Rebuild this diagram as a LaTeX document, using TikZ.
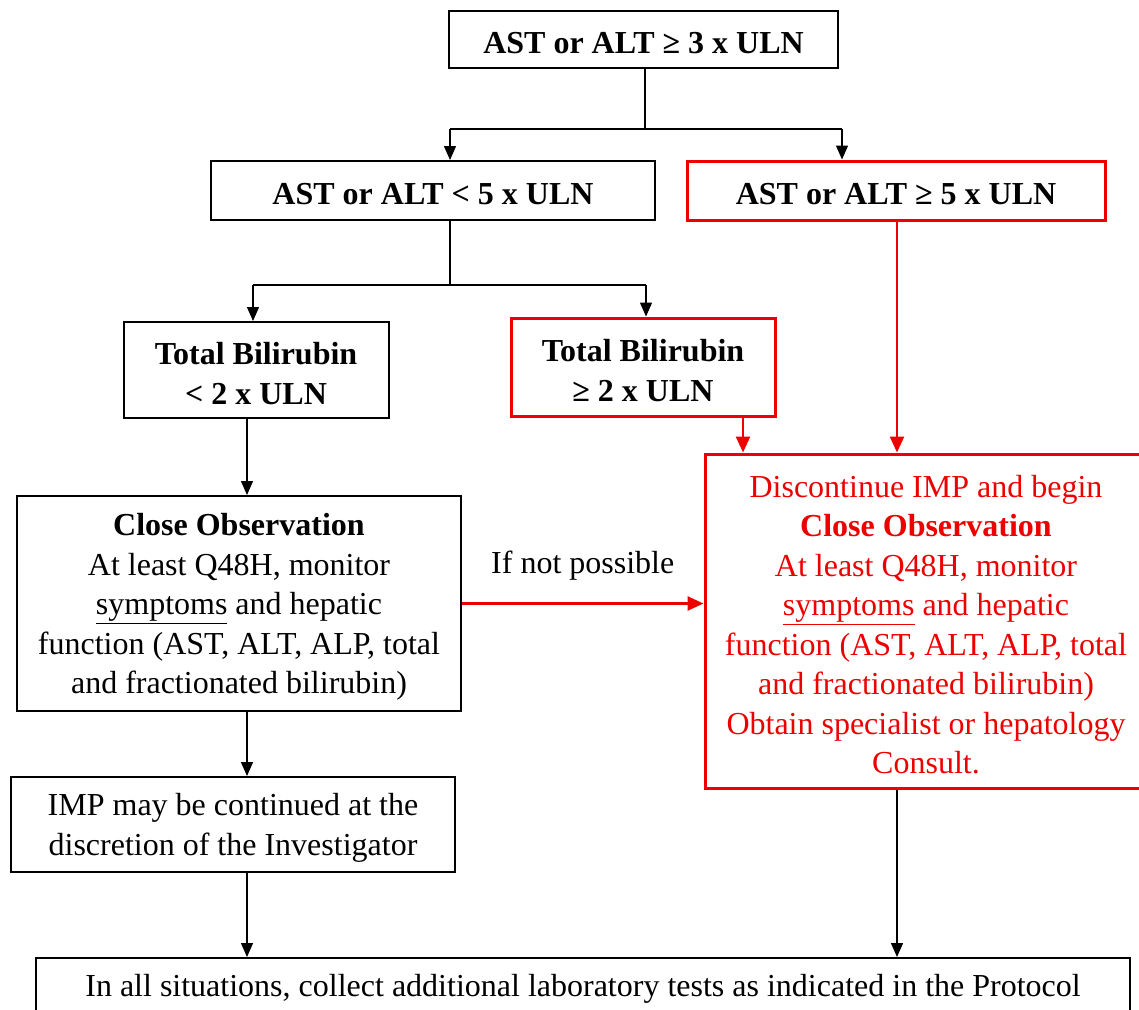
\documentclass[tikz,border=0pt]{standalone}
\usepackage{fontspec}
\setmainfont{Liberation Serif}
\usetikzlibrary{arrows.meta}
\definecolor{xred}{RGB}{236,0,0}
\newcommand\tsh{\rule{0pt}{29pt}}
\tikzset{
  boxbase/.style={rectangle, inner sep=0pt, align=center, font=\fontsize{32}{39.5}\selectfont},
  blackbox/.style={boxbase, draw=black, line width=2pt},
  redbox/.style={boxbase, draw=xred, line width=3pt},
  conn/.style={draw=black, line width=1.3pt},
  arr/.style={conn, -{Triangle[length=14pt,width=12pt]}},
  redconn/.style={draw=xred, line width=2.5pt},
  redarr/.style={redconn, -{Triangle[length=16pt,width=14pt]}},
}
\begin{document}
\begin{tikzpicture}[x=1pt,y=-1pt]
\clip (0,0) rectangle (1139,1009);
\fill[white] (0,0) rectangle (1139,1009);

% nodes
\node[blackbox, minimum width=389pt, minimum height=57pt] (top) at (643.5,39.5) {\tsh\textbf{AST or ALT ≥ 3 x ULN}};
\node[blackbox, minimum width=444pt, minimum height=59pt] (A) at (433,190.5) {\tsh\textbf{AST or ALT < 5 x ULN}};
\node[redbox, minimum width=418pt, minimum height=59pt] (B) at (896,190.5) {\tsh\textbf{AST or ALT ≥ 5 x ULN}};
\node[blackbox, minimum width=265pt, minimum height=96pt] (C) at (256,370) {\tsh\textbf{Total Bilirubin}\\\textbf{< 2 x ULN}};
\node[redbox, minimum width=264pt, minimum height=98pt] (D) at (643,367) {\tsh\textbf{Total Bilirubin}\\\textbf{≥ 2 x ULN}};
\node[redbox, text=xred, minimum width=442pt, minimum height=334pt] (E) at (926,621)
  {\tsh Discontinue IMP and begin\\\textbf{Close Observation}\\At least Q48H, monitor\\\underline{symptoms} and hepatic\\function (AST, ALT, ALP, total\\and fractionated bilirubin)\\Obtain specialist or hepatology\\Consult.};
\node[blackbox, minimum width=444pt, minimum height=215pt] (F) at (239,603.5)
  {\tsh\textbf{Close Observation}\\At least Q48H, monitor\\\underline{symptoms} and hepatic\\function (AST, ALT, ALP, total\\and fractionated bilirubin)};
\node[blackbox, minimum width=444pt, minimum height=95pt] (G) at (233,824.5)
  {\tsh IMP may be continued at the\\discretion of the Investigator};
\node[blackbox, minimum width=1094pt, minimum height=54pt] (H) at (583,985)
  {\tsh In all situations, collect additional laboratory tests as indicated in the Protocol};

% junction coordinates
\coordinate (s1) at (645,129);
\coordinate (s1l) at (450,129);
\coordinate (s1r) at (842,129);
\coordinate (s2) at (450,285);
\coordinate (s2l) at (253,285);
\coordinate (s2r) at (646,285);
\coordinate (xl) at (247,0);
\coordinate (xd) at (743,0);
\coordinate (xb) at (897,0);

% black connectors
\draw[conn] (top.south -| s1) -- (s1);
\draw[conn] (s1l) -- (s1r);
\draw[arr] (s1l) -- (s1l |- A.north);
\draw[arr] (s1r) -- (s1r |- B.north);
\draw[conn] (A.south -| s2) -- (s2);
\draw[conn] (s2l) -- (s2r);
\draw[arr] (s2l) -- (s2l |- C.north);
\draw[arr] (s2r) -- (s2r |- D.north);
\draw[arr] (C.south -| xl) -- (F.north -| xl);
\draw[arr] (F.south -| xl) -- (G.north -| xl);
\draw[arr] (G.south -| xl) -- (H.north -| xl);
\draw[arr] (E.south -| xb) -- (H.north -| xb);

% red connectors
\draw[redarr] (D.south -| xd) -- (E.north -| xd);
\draw[redarr] (B.south -| xb) -- (E.north -| xb);
\draw[redarr] (F.east) -- (F.east -| E.west)
  node[midway, yshift=38pt, font=\fontsize{32}{39.5}\selectfont, inner sep=0pt] (lbl) {If not possible};
\end{tikzpicture}
\end{document}
